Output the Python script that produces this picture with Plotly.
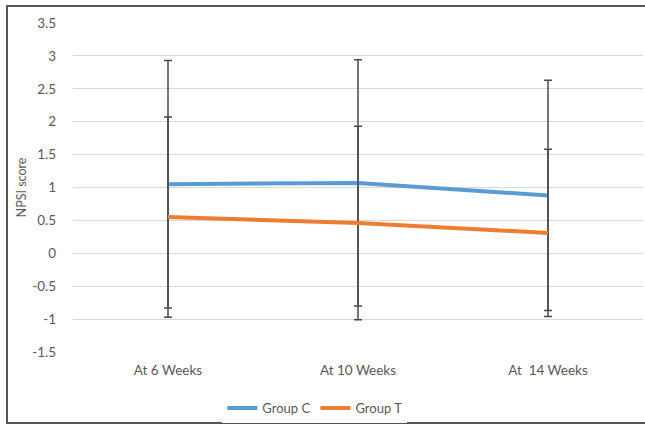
import plotly.graph_objects as go

categories = ["At 6 Weeks", "At 10 Weeks", "At  14 Weeks"]
group_c = [1.05, 1.07, 0.88]
group_c_err = [1.88, 1.87, 1.75]
group_t = [0.55, 0.46, 0.31]
group_t_err = [1.52, 1.47, 1.27]
y_ticks = [3.5, 3, 2.5, 2, 1.5, 1, 0.5, 0, -0.5, -1, -1.5]

font = dict(family="Lato, 'Open Sans', sans-serif", size=13.5, color="#595959")

fig = go.Figure()
fig.add_trace(go.Scatter(
    x=categories, y=group_c, name="Group C", mode="lines",
    line=dict(color="#5B9BD5", width=4),
    error_y=dict(type="data", array=group_c_err, visible=True,
                 color="#4a4a4a", thickness=1.5, width=4),
))
fig.add_trace(go.Scatter(
    x=categories, y=group_t, name="Group T", mode="lines",
    line=dict(color="#ED7D31", width=4),
    error_y=dict(type="data", array=group_t_err, visible=True,
                 color="#4a4a4a", thickness=1.5, width=4),
))

fig.update_layout(
    width=645, height=424,
    margin=dict(l=73, r=2, t=23, b=72, autoexpand=False),
    paper_bgcolor="white", plot_bgcolor="white",
    font=font,
    showlegend=True,
    legend=dict(orientation="h", x=0.262, y=-0.125, xanchor="left", yanchor="top",
                font=dict(size=13, color="#595959"), itemwidth=30,
                tracegroupgap=0),
    xaxis=dict(range=[-0.5, 2.5], showgrid=False, zeroline=False, automargin=False,
               showline=False, ticks="", ticklabelstandoff=8),
    yaxis=dict(range=[-1.5, 3.5], tickvals=y_ticks, automargin=False,
               ticktext=[("%g" % v) for v in y_ticks],
               showgrid=True, gridcolor="#d9d9d9", gridwidth=1,
               zeroline=False, showline=False, ticks="",
               ticklabelstandoff=16,
               title=dict(text="NPSI score", standoff=2,
                          font=dict(size=12.5, color="#595959"))),
    shapes=[dict(type="rect", xref="paper", yref="paper",
                 x0=-0.1158, x1=1.2, y0=-0.2158, y1=1.0517,
                 line=dict(color="#555555", width=2), fillcolor="rgba(0,0,0,0)",
                 layer="below")],
)

fig.write_html("out.html", config={"displayModeBar": False},
               post_script="document.body.style.margin='0';")
